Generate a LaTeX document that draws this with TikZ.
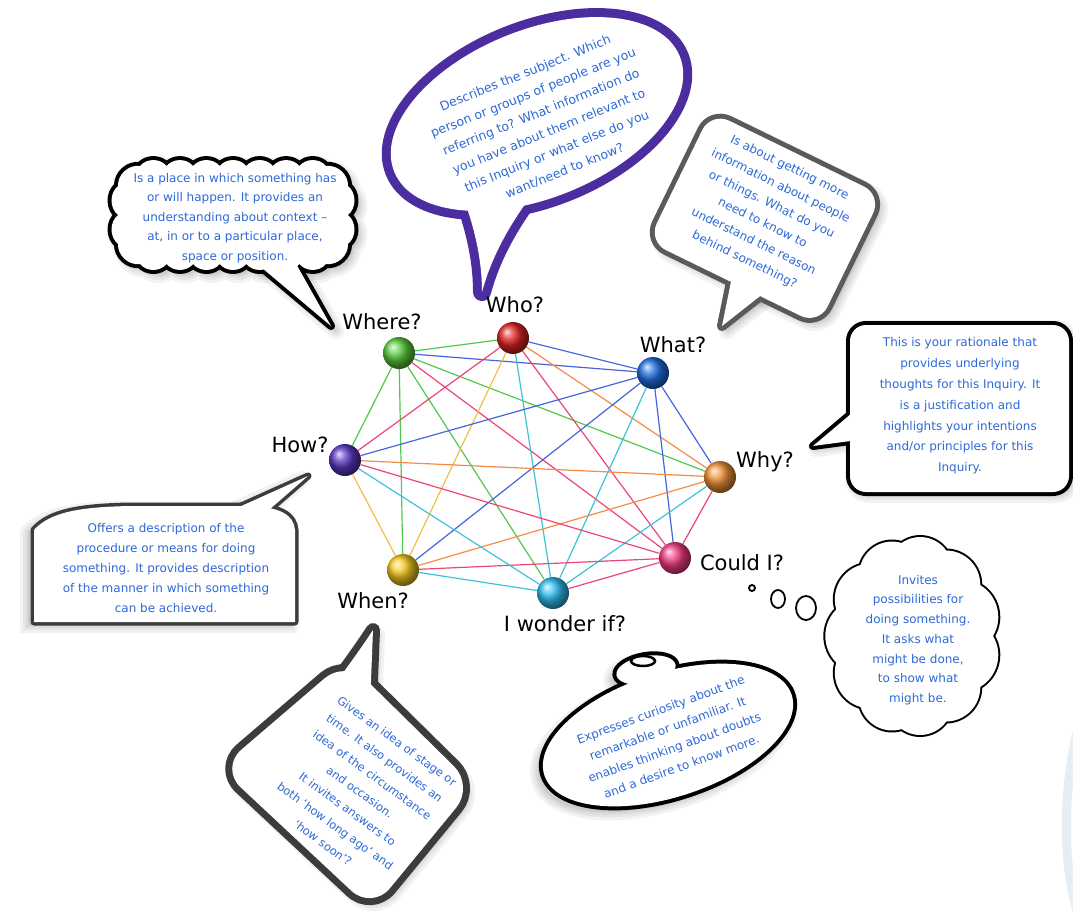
\documentclass[tikz,border=0pt]{standalone}
\usepackage{fontspec}
\setmainfont{DejaVu Sans}
\usetikzlibrary{backgrounds}
\definecolor{txtblue}{RGB}{45,105,215}
\definecolor{whoPurple}{RGB}{75,45,160}
\definecolor{greyA}{RGB}{90,90,90}
\definecolor{greyB}{RGB}{60,60,60}
\definecolor{eGreen}{RGB}{80,200,80}
\definecolor{ePink}{RGB}{235,70,120}
\definecolor{eBlue}{RGB}{70,100,220}
\definecolor{eOrange}{RGB}{245,140,70}
\definecolor{eCyan}{RGB}{60,195,215}
\definecolor{eYellow}{RGB}{240,190,70}
\definecolor{bWhere}{RGB}{90,205,60}
\definecolor{bWho}{RGB}{225,35,35}
\definecolor{bWhat}{RGB}{30,110,225}
\definecolor{bWhy}{RGB}{240,145,55}
\definecolor{bCould}{RGB}{245,60,130}
\definecolor{bWonder}{RGB}{45,190,240}
\definecolor{bWhen}{RGB}{245,200,30}
\definecolor{bHow}{RGB}{90,55,195}
\definecolor{faintArc}{RGB}{228,238,243}
% #1 body options, #2 body path, #3 tail path, #4 colour, #5 doubled width, #6 shadow options
\newcommand\mkbubble[6]{%
  \begin{scope}[#6]
    \foreach \sw in {16,10,5}{%
      \draw[black, line width=\sw pt, #1] #2;
      \draw[black, line width=\sw pt, line join=round] #3;}
    \fill[black, #1] #2;
    \fill[black] #3;
  \end{scope}
  \draw[#4, line width=#5, line join=round, #1] #2;
  \draw[#4, line width=#5, line join=round] #3;
  \fill[white, #1] #2;
  \fill[white] #3;
}
\tikzset{
  qball/.style={circle, minimum size=32pt, inner sep=0pt},
  qlabel/.style={font=\fontsize{21}{24}\selectfont, text=black, inner sep=0pt},
  btext/.style={align=center, text=txtblue, inner sep=0pt},
  link/.style={line width=1.2pt},
  softshadow/.style={draw opacity=0.05, fill opacity=0.07},
  noshadow/.style={draw opacity=0, fill opacity=0}
}
\begin{document}
\begin{tikzpicture}[x=1pt,y=-1pt]
\useasboundingbox (0,0) rectangle (1073,911);

% faint arc at right edge
\draw[faintArc, line width=9pt] (1080,720) .. controls (1062,790) and (1062,860) .. (1078,915);

% ---------- Who bubble ----------
\mkbubble{}{[rotate around={22:(537,114)}] (537,114) ellipse [x radius=154, y radius=84]}
  {(466,205) .. controls (478,240) and (482,268) .. (482,292) .. controls (490,262) and (505,232) .. (528,200) -- cycle}
  {whoPurple}{18pt}{noshadow}
\node[btext, rotate=22, font=\fontsize{12.5}{21}\selectfont] (twho) at (545,122)
  {Describes the subject. Which\\person or groups of people are you\\referring to? What information do\\you have about them relevant to\\this Inquiry or what else do you\\want/need to know?};

% ---------- Where bubble ----------
\mkbubble{}
  {(140,166) \foreach \px/\py in {166.6/166,193.1/166,219.7/166,246.3/166,272.9/166,299.4/166,326/166,348/186,348/215,348/244,326/264,299.4/264,272.9/264,246.3/264,219.7/264,193.1/264,166.6/264,140/264,118/244,118/215,118/186,140/166}{ to[bend left=50] (\px,\py) } -- cycle}
  {(255,262) -- (331,326) -- (295,262) -- cycle}
  {black}{8pt}{softshadow, shift={(5,5)}}
\node[btext, font=\fontsize{12}{19.5}\selectfont] (twhere) at (235,218)
  {Is a place in which something has\\or will happen. It provides an\\understanding about context --\\at, in or to a particular place,\\space or position.};

% ---------- What bubble ----------
\mkbubble{}{[rotate around={-26:(768,212)}] [rounded corners=20pt] (673,147) rectangle (863,291)}
  {(735,262) -- (722,326) -- (778,282) -- cycle}
  {greyA}{10pt}{softshadow, shift={(5,5)}}
\node[btext, rotate=-26, font=\fontsize{12}{20.5}\selectfont] (twhat) at (767,214)
  {Is about getting more\\information about people\\or things. What do you\\need to know to\\understand the reason\\behind something?};

% ---------- Why bubble ----------
\mkbubble{}{[rounded corners=16pt] (850,325) rectangle (1069,492)}
  {(858,408) -- (813,446) -- (858,440) -- cycle}
  {black}{8pt}{softshadow, shift={(3,3)}}
\node[btext, font=\fontsize{12}{20.8}\selectfont] (twhy) at (960,406)
  {This is your rationale that\\provides underlying\\thoughts for this Inquiry. It\\is a justification and\\highlights your intentions\\and/or principles for this\\Inquiry.};

% ---------- How bubble ----------
\mkbubble{}{(34,622) -- (34,530) .. controls (50,512) and (80,507) .. (130,506) -- (250,506) .. controls (280,507) and (294,515) .. (295,530) -- (295,622) -- cycle}
  {(228,512) -- (308,476) -- (262,516) -- cycle}
  {greyB}{7pt}{softshadow, shift={(-6,3)}}
\node[btext, font=\fontsize{12}{19.8}\selectfont] (thow) at (166,568)
  {Offers a description of the\\procedure or means for doing\\something. It provides description\\of the manner in which something\\can be achieved.};

% ---------- Could I thought bubble ----------
\mkbubble{}{(993,636) \foreach \i in {1,...,11}{ to[bend left=45] ({913+80*cos(\i*360/11)},{636+94*sin(\i*360/11)}) } -- cycle}
  {}{black}{4pt}{noshadow}
\draw[black, line width=1.8pt] (752,588) circle [radius=3];
\draw[black, line width=1.8pt] (778,599) ellipse [x radius=7, y radius=9];
\draw[black, line width=1.8pt] (806,608) ellipse [x radius=10, y radius=12];
\node[btext, font=\fontsize{12}{19.7}\selectfont] (tcould) at (918,640)
  {Invites\\possibilities for\\doing something.\\It asks what\\might be done,\\to show what\\might be.};

% ---------- I wonder bubble ----------
\mkbubble{}{[rotate around={18:(668,735)}] (668,735) ellipse [x radius=130, y radius=62]}
  {[rotate around={10:(646,670)}] (646,670) ellipse [x radius=30, y radius=14]}
  {black}{8pt}{softshadow, shift={(-5,6)}}
\draw[black, line width=2.5pt] (643,661) ellipse [x radius=12, y radius=5];
\node[btext, rotate=20, font=\fontsize{12}{20.2}\selectfont] (twonder) at (671,738)
  {Expresses curiosity about the\\remarkable or unfamiliar. It\\enables thinking about doubts\\and a desire to know more.};

% ---------- When bubble ----------
\mkbubble{}{[rounded corners=28pt] (346,660) -- (474,786) -- (372,910) -- (220,768) -- cycle}
  {(322,702) .. controls (345,670) and (360,650) .. (373,630) -- (370,706) -- cycle}
  {greyB}{14pt}{softshadow, shift={(4,5)}}
\node[btext, rotate=-36, font=\fontsize{11.5}{21}\selectfont] (twhen) at (360,792)
  {Gives an idea of stage or\\time. It also provides an\\idea of the circumstance\\and occasion.\\It invites answers to\\both `how long ago' and\\`how soon'?};

% ---------- graph ----------
\node[qball, ball color=bWhere] (where) at (399,353) {};
\node[qball, ball color=bWho] (who) at (513,338) {};
\node[qball, ball color=bWhat] (what) at (653,373) {};
\node[qball, ball color=bWhy] (why) at (720,477) {};
\node[qball, ball color=bCould] (could) at (675,558) {};
\node[qball, ball color=bWonder] (iwonder) at (553,593) {};
\node[qball, ball color=bWhen] (when) at (403,570) {};
\node[qball, ball color=bHow] (how) at (345,460) {};

\node[qlabel] (lwho) at (515,305) {Who?};
\node[qlabel] (lwhere) at (382,322) {Where?};
\node[qlabel] (lwhat) at (673,345) {What?};
\node[qlabel] (lwhy) at (765,462) {Why?};
\node[qlabel] (lcould) at (742,563) {Could I?};
\node[qlabel] (lwonder) at (565,624) {I wonder if?};
\node[qlabel] (lwhen) at (373,601) {When?};
\node[qlabel] (lhow) at (300,445) {How?};

\begin{scope}[on background layer]
\draw[link, eGreen] (where) -- (who);
\draw[link, eBlue] (where) -- (what);
\draw[link, eGreen] (where) -- (why);
\draw[link, ePink] (where) -- (could);
\draw[link, eGreen] (where) -- (iwonder);
\draw[link, eGreen] (where) -- (when);
\draw[link, eGreen] (where) -- (how);
\draw[link, eBlue] (who) -- (what);
\draw[link, eOrange] (who) -- (why);
\draw[link, ePink] (who) -- (could);
\draw[link, eCyan] (who) -- (iwonder);
\draw[link, eYellow] (who) -- (when);
\draw[link, ePink] (who) -- (how);
\draw[link, eBlue] (what) -- (why);
\draw[link, eBlue] (what) -- (could);
\draw[link, eCyan] (what) -- (iwonder);
\draw[link, eBlue] (what) -- (when);
\draw[link, eBlue] (what) -- (how);
\draw[link, ePink] (why) -- (could);
\draw[link, eCyan] (why) -- (iwonder);
\draw[link, eOrange] (why) -- (when);
\draw[link, eOrange] (why) -- (how);
\draw[link, ePink] (could) -- (iwonder);
\draw[link, ePink] (could) -- (when);
\draw[link, ePink] (could) -- (how);
\draw[link, eCyan] (iwonder) -- (when);
\draw[link, eCyan] (iwonder) -- (how);
\draw[link, eYellow] (when) -- (how);
\end{scope}
\end{tikzpicture}
\end{document}
